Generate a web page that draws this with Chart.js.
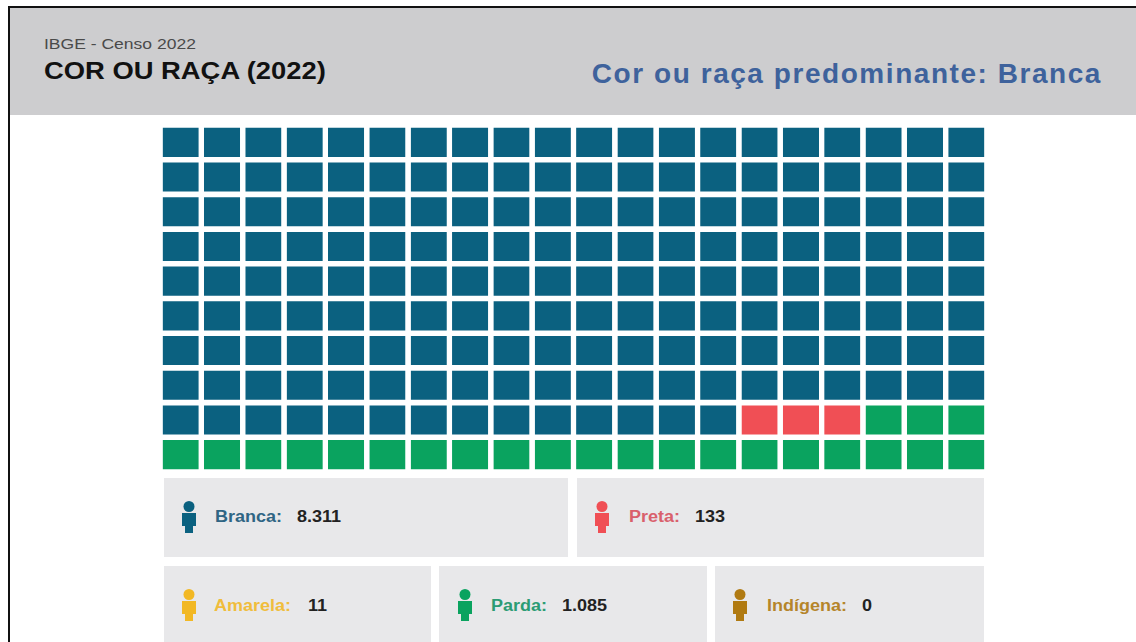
<!DOCTYPE html>
<html>
<head>
<meta charset="utf-8">
<title>Cor ou raça (2022)</title>
<script src="https://cdn.jsdelivr.net/npm/chart.js"></script>
<style>
  body {
  margin: 0;
  width: 1136px;
  height: 642px;
  overflow: hidden;
  position: relative;
  background-color: #fff;
  font-family: "Liberation Sans", Arial, sans-serif;
}
#frame-left {
  position: absolute;
  left: 8px;
  top: 6px;
  width: 2px;
  height: 636px;
  background-color: #111;
}
#frame-top {
  position: absolute;
  left: 8px;
  top: 6px;
  width: 1128px;
  height: 2px;
  background-color: #111;
}
#header {
  position: absolute;
  left: 10px;
  top: 8px;
  width: 1126px;
  height: 107px;
  background-color: #cdcdcf;
}
#source {
  position: absolute;
  left: 44px;
  top: 35px;
  font-size: 15.5px;
  color: #4a4a4a;
  transform: scaleX(1.13);
  transform-origin: left;
}
#title {
  position: absolute;
  left: 44px;
  top: 58px;
  font-size: 23px;
  font-weight: bold;
  color: #111;
  transform: scaleX(1.19);
  transform-origin: left;
}
#highlight {
  position: absolute;
  right: 34px;
  top: 58px;
  font-size: 28px;
  font-weight: bold;
  letter-spacing: 1.55px;
  color: #3e629c;
}
#waffle {
  position: absolute;
  left: 160px;
  top: 125px;
}
.panel {
  position: absolute;
  background-color: #e8e8ea;
}
.panel svg {
  position: absolute;
  width: 16px;
  height: 32px;
}
.panel span {
  position: absolute;
  font-size: 16px;
  font-weight: bold;
  white-space: nowrap;
  transform: scaleX(1.125);
  transform-origin: left;
}
.panel .value {
  color: #222;
}
#p0 { left: 164px; top: 478px; width: 404px; height: 79px; }
#p1 { left: 577px; top: 478px; width: 407px; height: 79px; }
#p2 { left: 164px; top: 566px; width: 267px; height: 76px; }
#p3 { left: 439px; top: 566px; width: 268px; height: 76px; }
#p4 { left: 715px; top: 566px; width: 269px; height: 76px; }
#p0 svg { left: 17px; top: 23px; } #p0 .name { left: 51px; top: 30px; } #p0 .value { left: 133px; top: 30px; }
#p1 svg { left: 17px; top: 23px; } #p1 .name { left: 52px; top: 30px; } #p1 .value { left: 118px; top: 30px; }
#p2 svg { left: 17px; top: 23px; } #p2 .name { left: 50px; top: 31px; } #p2 .value { left: 144px; top: 31px; }
#p3 svg { left: 18px; top: 23px; } #p3 .name { left: 52px; top: 31px; } #p3 .value { left: 123px; top: 31px; }
#p4 svg { left: 17px; top: 23px; } #p4 .name { left: 52px; top: 31px; } #p4 .value { left: 147px; top: 31px; }
</style>
</head>
<body>
<div id="header"></div>
<div id="frame-top"></div>
<div id="frame-left"></div>
<div id="source">IBGE - Censo 2022</div>
<div id="title">COR OU RAÇA (2022)</div>
<div id="highlight">Cor ou raça predominante: Branca</div>
<canvas id="waffle" width="827" height="347"></canvas>
<div id="panels"></div>

<script>
const categories = ['Branca', 'Preta', 'Amarela', 'Parda', 'Indígena'];
const populationValues = [8311, 133, 11, 1085, 0];
const cellCounts = [174, 3, 0, 23, 0];
const categoryColors = ['#0b6180', '#f04f55', '#f2b824', '#0aa35f', '#b07a12'];
const nameColors = ['#2f6584', '#d9606c', '#f0bd3c', '#2b9c74', '#b5852a'];
const columnLabels = ['1', '2', '3', '4', '5', '6', '7', '8', '9', '10', '11', '12', '13', '14', '15', '16', '17', '18', '19', '20'];
const rowLabels = ['1', '2', '3', '4', '5', '6', '7', '8', '9', '10'];

// waffle cells run left to right, top to bottom
const cellColors = [];
categories.forEach((name, i) => {
  for (let n = 0; n < cellCounts[i]; n++) cellColors.push(categoryColors[i]);
});

const datasets = rowLabels.map((row, r) => ({
  label: 'Linha ' + row,
  data: columnLabels.map(() => 1),
  backgroundColor: columnLabels.map((col, c) => cellColors[r * columnLabels.length + c]),
  borderColor: '#fff',
  borderWidth: { top: 2.8, bottom: 2.8, left: 0, right: 0 },
  borderSkipped: false,
  barPercentage: 0.875,
  categoryPercentage: 1
}));

new Chart(document.getElementById('waffle'), {
  type: 'bar',
  data: { labels: columnLabels, datasets: datasets },
  options: {
    responsive: false,
    animation: false,
    layout: { padding: 0 },
    plugins: { legend: { display: false }, tooltip: { enabled: false } },
    scales: {
      x: { stacked: true, display: false },
      y: { stacked: true, display: false, reverse: true, min: 0, max: rowLabels.length }
    }
  }
});

const panels = document.getElementById('panels');
categories.forEach((name, i) => {
  const color = categoryColors[i];
  panels.insertAdjacentHTML('beforeend', `
    <div class="panel" id="p${i}">
      <svg viewBox="0 0 16 32">
        <circle cx="8" cy="5.5" r="5.5" fill="${color}"/>
        <path d="M1 12 H15 V25 H12 V32 H4 V25 H1 Z" fill="${color}"/>
      </svg>
      <span class="name" style="color:${nameColors[i]}">${name}:</span>
      <span class="value">${populationValues[i].toLocaleString('pt-BR')}</span>
    </div>`);
});
</script>
</body>
</html>
